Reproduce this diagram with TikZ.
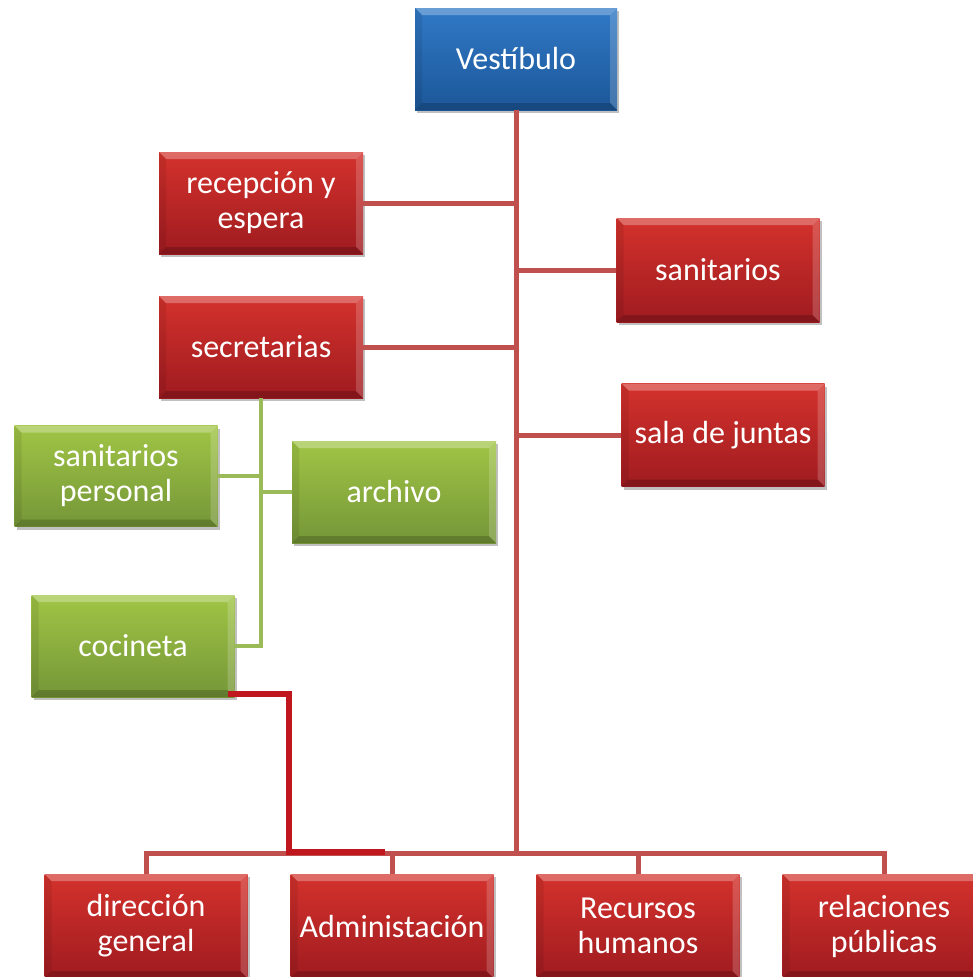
\documentclass[tikz,border=0pt]{standalone}
\usepackage{fontspec}
\setmainfont{Carlito}
\usetikzlibrary{shadows,calc}
\definecolor{redtop}{HTML}{D4322C}
\definecolor{redbot}{HTML}{9F1B20}
\definecolor{bluetop}{HTML}{3079C6}
\definecolor{bluebot}{HTML}{1C5799}
\definecolor{greentop}{HTML}{A0C545}
\definecolor{greenbot}{HTML}{759638}
\definecolor{redline}{HTML}{C0504D}
\definecolor{greenline}{HTML}{9BBB59}
\definecolor{darkline}{HTML}{C0171F}
\tikzset{
  boxbase/.style={rectangle, minimum width=203pt, minimum height=102pt, inner sep=0pt,
    text=white, align=center, font=\fontsize{32}{35}\selectfont,
    drop shadow={shadow xshift=2pt, shadow yshift=-3pt, opacity=0.35, fill=black!70},
    path picture={
      \fill[white,opacity=0.28] (path picture bounding box.north west) -- (path picture bounding box.north east)
        -- ([xshift=-7pt,yshift=-7pt]path picture bounding box.north east) -- ([xshift=7pt,yshift=-7pt]path picture bounding box.north west) -- cycle;
      \fill[white,opacity=0.18] (path picture bounding box.north east) -- (path picture bounding box.south east)
        -- ([xshift=-7pt,yshift=7pt]path picture bounding box.south east) -- ([xshift=-7pt,yshift=-7pt]path picture bounding box.north east) -- cycle;
      \fill[black,opacity=0.18] (path picture bounding box.south west) -- (path picture bounding box.south east)
        -- ([xshift=-7pt,yshift=7pt]path picture bounding box.south east) -- ([xshift=7pt,yshift=7pt]path picture bounding box.south west) -- cycle;
      \fill[black,opacity=0.08] (path picture bounding box.north west) -- (path picture bounding box.south west)
        -- ([xshift=7pt,yshift=7pt]path picture bounding box.south west) -- ([xshift=7pt,yshift=-7pt]path picture bounding box.north west) -- cycle;
    }},
  redbox/.style={boxbase, top color=redtop, bottom color=redbot},
  bluebox/.style={boxbase, top color=bluetop, bottom color=bluebot},
  greenbox/.style={boxbase, top color=greentop, bottom color=greenbot},
  redconn/.style={draw=redline, line width=5pt},
  greenconn/.style={draw=greenline, line width=4.5pt},
  darkconn/.style={draw=darkline, line width=5.5pt},
}
\begin{document}
\begin{tikzpicture}[x=1pt,y=-1pt]
\useasboundingbox (0,0) rectangle (973,977);
\fill[white] (0,0) rectangle (973,977);

\coordinate (bar) at (516,853);
\coordinate (dturn) at (289,852);
\coordinate (dend) at (385,852);

\node[bluebox, minimum width=202pt] (vest) at (516,59) {Vestíbulo};
\node[redbox, minimum width=204pt] (recep) at (261,203) {recepción y\\espera};
\node[redbox, minimum height=104pt] (sanit) at (718,270) {sanitarios};
\node[redbox, minimum width=204pt] (secr) at (261,347) {secretarias};
\node[redbox, minimum height=103pt] (sala) at (723,435) {sala de juntas};
\node[greenbox, minimum height=101pt] (sanper) at (116,476) {sanitarios\\personal};
\node[greenbox, minimum width=204pt] (arch) at (394,492) {archivo};
\node[greenbox] (cocin) at (133,646) {cocineta};
\node[redbox, minimum height=104pt] (dir) at (146,926) {dirección\\general};
\node[redbox, minimum height=104pt] (adm) at (392,926) {Administación};
\node[redbox, minimum height=104pt] (rh) at (638,926) {Recursos\\humanos};
\node[redbox, minimum height=104pt] (rp) at (884,926) {relaciones\\públicas};

\draw[redconn] (vest.south) -- (bar);
\draw[redconn] (recep.east) -- (recep.east -| vest.south);
\draw[redconn] (sanit.west) -- (sanit.west -| vest.south);
\draw[redconn] (secr.east) -- (secr.east -| vest.south);
\draw[redconn] (sala.west) -- (sala.west -| vest.south);
\draw[redconn] (dir.north) |- (rp.north |- bar) -- (rp.north);
\draw[redconn] (adm.north) -- (adm.north |- bar);
\draw[redconn] (rh.north) -- (rh.north |- bar);

\draw[greenconn] (secr.south) -- (cocin.east -| secr.south) -- (cocin.east);
\draw[greenconn] (sanper.east) -- (sanper.east -| secr.south);
\draw[greenconn] (arch.west) -- (arch.west -| secr.south);

\draw[darkconn] ([xshift=-7pt,yshift=3pt]cocin.south east) -| (dturn) -- (dend);
\end{tikzpicture}
\end{document}
